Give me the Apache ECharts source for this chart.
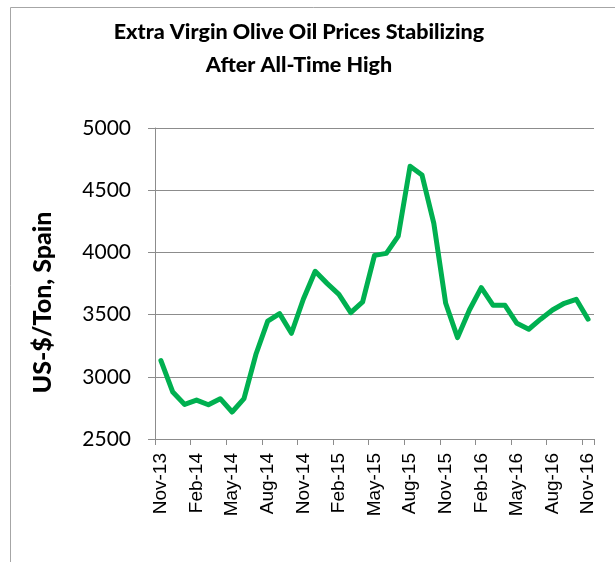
<!DOCTYPE html>
<html>
<head>
<meta charset="utf-8">
<script src="https://cdn.jsdelivr.net/npm/echarts@6/dist/echarts.min.js"></script>
<style>
  html, body { margin: 0; padding: 0; background: #fff; }
  #chart { width: 615px; height: 562px; }
</style>
</head>
<body>
<div id="chart"></div>
<script>
// monthly price, Nov-13 .. Nov-16
const months = [
  'Nov-13', 'Dec-13', 'Jan-14', 'Feb-14', 'Mar-14', 'Apr-14', 'May-14', 'Jun-14', 'Jul-14',
  'Aug-14', 'Sep-14', 'Oct-14', 'Nov-14', 'Dec-14', 'Jan-15', 'Feb-15', 'Mar-15', 'Apr-15',
  'May-15', 'Jun-15', 'Jul-15', 'Aug-15', 'Sep-15', 'Oct-15', 'Nov-15', 'Dec-15', 'Jan-16',
  'Feb-16', 'Mar-16', 'Apr-16', 'May-16', 'Jun-16', 'Jul-16', 'Aug-16', 'Sep-16', 'Oct-16',
  'Nov-16'
];
const prices = [
  3130, 2877, 2778, 2813, 2775, 2824, 2717, 2824, 3179,
  3447, 3508, 3350, 3623, 3848, 3751, 3663, 3516, 3602,
  3976, 3992, 4131, 4693, 4623, 4233, 3591, 3315, 3537,
  3717, 3575, 3575, 3430, 3382, 3463, 3537, 3591, 3623,
  3463
];
const yTicks = { min: 2500, max: 5000, step: 500 };

const chart = echarts.init(document.getElementById('chart'));

const gray = '#8c8c8c';

chart.setOption({
  animation: false,
  graphic: [
    {
      type: 'rect',
      shape: { x: 10.5, y: 7.5, width: 640, height: 600 },
      style: { fill: 'none', stroke: '#a6a6a6', lineWidth: 1 },
      silent: true,
      z: -1
    },
    {
      // chart title, centred a bit left of the page like the original
      type: 'text',
      x: 299,
      y: 16,
      style: {
        text: 'Extra Virgin Olive Oil Prices Stabilizing\nAfter All-Time High',
        align: 'center',
        verticalAlign: 'top',
        font: '900 21.5px Lato',
        lineHeight: 33,
        fill: '#000'
      }
    }
  ],
  grid: {
    left: 155,
    right: 21,
    top: 128,
    bottom: 123,
    containLabel: false
  },
  xAxis: {
    type: 'category',
    data: months,
    boundaryGap: true,
    axisLine: { lineStyle: { color: gray, width: 1 } },
    axisTick: { show: true, interval: 2, length: 6, lineStyle: { color: gray } },
    axisLabel: {
      interval: 2,
      rotate: 90,
      margin: 14,
      fontFamily: 'Liberation Sans',
      fontSize: 19,
      color: '#000'
    },
    splitLine: { show: false }
  },
  yAxis: {
    type: 'value',
    min: yTicks.min,
    max: yTicks.max,
    interval: yTicks.step,
    name: 'US-$/Ton, Spain',
    nameLocation: 'middle',
    nameGap: 100,
    nameTextStyle: {
      fontFamily: 'Lato',
      fontWeight: 900,
      fontSize: 25,
      color: '#000',
      padding: [0, 38, 0, 0]
    },
    axisLine: { show: true, lineStyle: { color: gray, width: 1 } },
    axisTick: { show: true, length: 7, lineStyle: { color: gray } },
    axisLabel: {
      margin: 24,
      fontFamily: 'Lato',
      fontSize: 21,
      color: '#000',
      formatter: (v) => String(v)
    },
    splitLine: { show: true, lineStyle: { color: gray, width: 1 } }
  },
  series: [
    {
      type: 'line',
      data: prices,
      symbol: 'none',
      smooth: false,
      lineStyle: { color: '#00b050', width: 5, join: 'round', cap: 'round' }
    }
  ]
});
</script>
</body>
</html>
